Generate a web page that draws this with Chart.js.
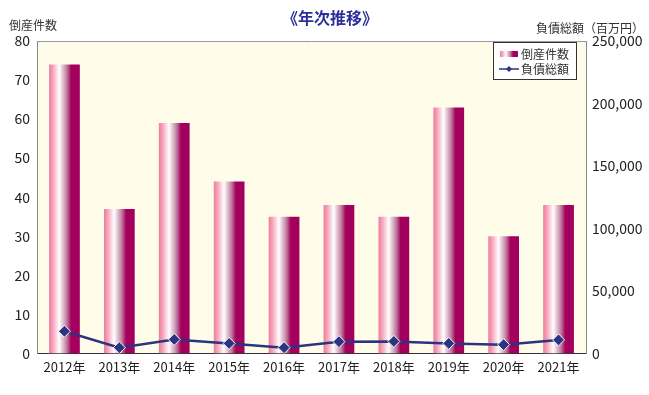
<!DOCTYPE html>
<html>
<head>
<meta charset="utf-8">
<script src="https://cdn.jsdelivr.net/npm/chart.js@4"></script>
<style>
  body { margin: 0; background: #fff; }
  #wrap { width: 649px; height: 395px; position: relative; }
</style>
</head>
<body>
<div id="wrap"><canvas id="c"></canvas></div>
<script>
const years = ['2012年', '2013年', '2014年', '2015年', '2016年', '2017年', '2018年', '2019年', '2020年', '2021年'];
const bankruptcies = [74, 37, 59, 44, 35, 38, 35, 63, 30, 38];
const debtTotal = [17700, 4600, 11200, 8000, 4600, 9400, 9600, 8000, 7000, 10800];

const FONT = '"Noto Sans CJK JP", "Noto Sans", sans-serif';

function barGradient(c, x0, x1) {
  const g = c.createLinearGradient(x0, 0, x1, 0);
  g.addColorStop(0, '#ee7b9b');
  g.addColorStop(0.15, '#f7aec3');
  g.addColorStop(0.33, '#ffffff');
  g.addColorStop(0.58, '#c07a9d');
  g.addColorStop(0.72, '#a2005c');
  g.addColorStop(1, '#a2005c');
  return g;
}

const decor = {
  id: 'decor',
  beforeDraw(chart) {
    const { ctx, chartArea: a } = chart;
    ctx.save();
    ctx.fillStyle = '#fffdea';
    ctx.fillRect(a.left, a.top, a.right - a.left, a.bottom - a.top);
    ctx.strokeStyle = '#9a9a9a';
    ctx.lineWidth = 1;
    ctx.beginPath();
    ctx.moveTo(a.left, a.top + 0.5);
    ctx.lineTo(a.right, a.top + 0.5);
    ctx.stroke();
    ctx.restore();
  },
  afterDraw(chart) {
    const { ctx } = chart;
    ctx.save();
    // titles
    ctx.fillStyle = '#2b2f9a';
    ctx.font = 'bold 16px ' + FONT;
    ctx.textAlign = 'center';
    ctx.textBaseline = 'middle';
    ctx.fillText('《年次推移》', 330, 18);
    ctx.fillStyle = '#333';
    ctx.font = '12px ' + FONT;
    ctx.textAlign = 'left';
    ctx.fillText('倒産件数', 9, 25);
    ctx.textAlign = 'right';
    ctx.fillText('負債総額（百万円）', 644, 28);

    // legend
    const lx = 493, ly = 42, lw = 83, lh = 37;
    ctx.fillStyle = '#fff';
    ctx.fillRect(lx, ly, lw, lh);
    ctx.strokeStyle = '#333';
    ctx.lineWidth = 1;
    ctx.strokeRect(lx + 0.5, ly + 0.5, lw, lh);
    ctx.fillStyle = barGradient(ctx, lx + 7, lx + 25);
    ctx.fillRect(lx + 7, ly + 9, 18, 6);
    ctx.strokeStyle = '#2b3480';
    ctx.lineWidth = 1.5;
    ctx.beginPath();
    ctx.moveTo(lx + 6, ly + 27);
    ctx.lineTo(lx + 26, ly + 27);
    ctx.stroke();
    ctx.fillStyle = '#2b3480';
    ctx.beginPath();
    ctx.moveTo(lx + 16, ly + 24);
    ctx.lineTo(lx + 19, ly + 27);
    ctx.lineTo(lx + 16, ly + 30);
    ctx.lineTo(lx + 13, ly + 27);
    ctx.closePath();
    ctx.fill();
    ctx.fillStyle = '#333';
    ctx.font = '12px ' + FONT;
    ctx.textAlign = 'left';
    ctx.fillText('倒産件数', lx + 28, ly + 12);
    ctx.fillText('負債総額', lx + 28, ly + 27);
    ctx.restore();
  }
};

new Chart(document.getElementById('c'), {
  type: 'bar',
  data: {
    labels: years,
    datasets: [{
      type: 'line',
      label: '負債総額',
      data: debtTotal,
      yAxisID: 'y2',
      borderColor: '#2b3480',
      borderWidth: 2.5,
      pointStyle: 'rectRot',
      pointRadius: 6,
      pointBackgroundColor: '#2b3480',
      pointBorderColor: '#ffffff',
      pointBorderWidth: 1,
      tension: 0,
      order: 0
    }, {
      label: '倒産件数',
      data: bankruptcies,
      yAxisID: 'y',
      categoryPercentage: 1,
      barPercentage: 0.56,
      order: 1,
      backgroundColor: function (context) {
        const chart = context.chart;
        const x = chart.scales.x;
        if (!x || !chart.chartArea) return '#c0507f';
        const step = (x.right - x.left) / years.length;
        const cx = x.getPixelForValue(context.dataIndex);
        const w = step * 0.56;
        return barGradient(chart.ctx, cx - w / 2, cx + w / 2);
      }
    }]
  },
  options: {
    responsive: true,
    maintainAspectRatio: false,
    animation: false,
    layout: { padding: { top: 41, right: 0, left: 0, bottom: 14 } },
    plugins: {
      legend: { display: false },
      tooltip: { enabled: false }
    },
    scales: {
      x: {
        grid: { display: false, drawTicks: false },
        border: { color: '#333', width: 1 },
        ticks: { color: '#222', font: { family: FONT, size: 13 }, padding: 6, maxRotation: 0 }
      },
      y: {
        position: 'left',
        min: 0,
        max: 80,
        afterFit(s) { s.width = 37; },
        grid: { display: false, drawTicks: true, tickLength: 4, tickColor: '#555' },
        border: { color: '#888', width: 1 },
        ticks: { stepSize: 10, color: '#222', font: { family: FONT, size: 14 }, padding: 3 }
      },
      y2: {
        position: 'right',
        min: 0,
        max: 250000,
        afterFit(s) { s.width = 63; },
        grid: { display: false, drawOnChartArea: false, drawTicks: true, tickLength: 4, tickColor: '#555' },
        border: { color: '#888', width: 1 },
        ticks: {
          stepSize: 50000,
          color: '#222',
          font: { family: FONT, size: 14 },
          padding: 2,
          callback: v => v.toLocaleString('en-US')
        }
      }
    }
  },
  plugins: [decor]
});
</script>
</body>
</html>
